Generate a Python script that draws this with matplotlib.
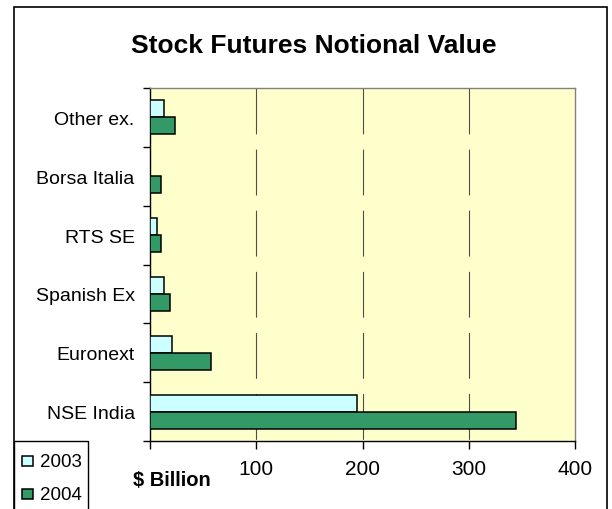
import matplotlib
matplotlib.use('Agg')
import matplotlib.pyplot as plt
from matplotlib.patches import Rectangle
import numpy as np

plt.rcParams['font.family'] = ['Liberation Sans', 'DejaVu Sans']
plt.rcParams['lines.scale_dashes'] = False

title = "Stock Futures Notional Value"
categories = ["NSE India", "Euronext", "Spanish Ex", "RTS SE", "Borsa Italia", "Other ex."]
years = ["2003", "2004"]
values_2003 = [195, 20.5, 13.5, 6.5, 0, 13.5]
values_2004 = [344.5, 57.5, 18.5, 10.5, 10.5, 23.5]
xticks = [0, 100, 200, 300, 400]
xticklabels = ["", "100", "200", "300", "400"]
xlabel = "$ Billion"
colors = ["#CCFFFF", "#339966"]

W, H = 612, 510
fig = plt.figure(figsize=(W / 100, H / 100), dpi=100)
fig.patch.set_facecolor('white')

# outer chart border (bottom edge runs off the picture)
fig.add_artist(Rectangle((14 / W, -0.1), (607 - 14) / W, (H - 8) / H + 0.1,
                         transform=fig.transFigure, fill=False,
                         edgecolor='black', lw=1.2, zorder=0))

ax = fig.add_axes([150 / W, 68 / H, 425 / W, 353 / H])
ax.set_facecolor('#FFFFCC')

y = np.arange(len(categories))
h = 0.29
ax.barh(y + h / 2, values_2003, height=h, color=colors[0], edgecolor='black',
        linewidth=1.1, zorder=3)
ax.barh(y - h / 2, values_2004, height=h, color=colors[1], edgecolor='black',
        linewidth=1.1, zorder=3)

ax.set_xlim(xticks[0], xticks[-1])
ax.set_ylim(-0.5, len(categories) - 0.5)

ax.set_yticks(y)
ax.set_yticklabels(categories, fontsize=14)
ax.set_yticks(np.arange(-0.5, len(categories)), minor=True)
ax.tick_params(axis='y', which='major', length=0, pad=11)
ax.tick_params(axis='y', which='minor', length=5, width=1, direction='out')

ax.set_xticks(xticks)
ax.set_xticklabels(xticklabels, fontsize=15)
ax.tick_params(axis='x', length=6, width=1, pad=7, direction='out')

for xv in xticks[1:-1]:
    ax.plot([xv, xv], [1, 0], transform=ax.get_xaxis_transform(),
            color='#4d4d4d', lw=0.8, linestyle=(0, (33, 11)), zorder=1)

for s in ['top', 'right']:
    ax.spines[s].set_color('#808080')
    ax.spines[s].set_linewidth(1.0)
for s in ['left', 'bottom']:
    ax.spines[s].set_color('black')
    ax.spines[s].set_linewidth(1.0)

fig.text(314 / W, 1 - 53 / H, title, ha='center', va='baseline',
         fontsize=19, fontweight='bold')
fig.text(172 / W, 1 - 486 / H, xlabel, ha='center', va='baseline',
         fontsize=14.5, fontweight='bold')

# legend box (bottom edge runs off the picture)
fig.add_artist(Rectangle((14 / W, -0.1), (88 - 14) / W, (H - 442) / H + 0.1,
                         transform=fig.transFigure, facecolor='white',
                         edgecolor='black', lw=1.0, zorder=5))
leg_y = [467, 500]
for yr, col, yb in zip(years, colors, leg_y):
    fig.add_artist(Rectangle((22 / W, (H - yb) / H), 10.5 / W, 10.5 / H,
                             transform=fig.transFigure, facecolor=col,
                             edgecolor='black', lw=1.1, zorder=6))
    fig.text(40 / W, (H - yb) / H, yr, ha='left', va='baseline',
             fontsize=13.5, zorder=6)

fig.savefig('out.png', dpi=100)
